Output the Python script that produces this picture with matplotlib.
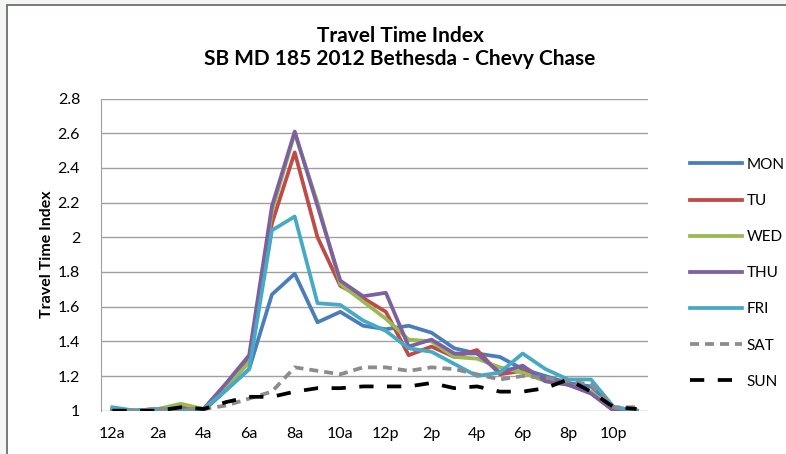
import numpy as np
import matplotlib
matplotlib.use('Agg')
import matplotlib.pyplot as plt
from matplotlib.patches import Rectangle

# hourly travel time index, 12a .. 11p
hours = list(range(24))
tick_labels = ['12a', '2a', '4a', '6a', '8a', '10a', '12p', '2p', '4p', '6p', '8p', '10p']

mon = [1.01, 1.00, 1.01, 1.01, 1.00, 1.12, 1.24, 1.67, 1.79, 1.51, 1.57, 1.49,
       1.47, 1.49, 1.45, 1.36, 1.33, 1.31, 1.24, 1.20, 1.16, 1.14, 1.02, 1.00]
tu = [1.01, 1.00, 1.01, 1.02, 1.01, 1.15, 1.30, 2.08, 2.49, 2.00, 1.72, 1.65,
      1.57, 1.32, 1.37, 1.31, 1.35, 1.21, 1.23, 1.18, 1.15, 1.10, 1.00, 1.00]
wed = [1.01, 1.00, 1.01, 1.04, 1.01, 1.14, 1.28, 2.15, 2.60, 2.20, 1.73, 1.63,
       1.53, 1.41, 1.40, 1.31, 1.30, 1.25, 1.22, 1.17, 1.15, 1.11, 1.00, 1.00]
thu = [1.00, 1.00, 1.00, 1.00, 1.01, 1.16, 1.32, 2.18, 2.61, 2.18, 1.75, 1.66,
       1.68, 1.37, 1.41, 1.33, 1.33, 1.22, 1.26, 1.17, 1.15, 1.10, 1.00, 1.00]
fri = [1.02, 1.00, 1.01, 1.00, 1.01, 1.12, 1.24, 2.04, 2.12, 1.62, 1.61, 1.52,
       1.46, 1.36, 1.34, 1.27, 1.20, 1.22, 1.33, 1.24, 1.18, 1.18, 1.02, 1.00]
sat = [1.00, 1.00, 1.01, 1.01, 1.01, 1.03, 1.07, 1.11, 1.25, 1.23, 1.21, 1.25,
       1.25, 1.23, 1.25, 1.24, 1.21, 1.18, 1.20, 1.19, 1.17, 1.15, 1.02, 1.02]
sun = [1.00, 1.00, 1.00, 1.02, 1.01, 1.05, 1.08, 1.08, 1.11, 1.13, 1.13, 1.14,
       1.14, 1.14, 1.16, 1.13, 1.14, 1.11, 1.11, 1.13, 1.18, 1.11, 1.02, 1.01]

font = ['Lato', 'DejaVu Sans']
plt.rcParams['font.family'] = font

fig = plt.figure(figsize=(7.86, 4.54), dpi=100, facecolor='#f4f6f4')
# chart area (white box with dark border on top/left)
fig.patches.append(Rectangle((7 / 786, -0.1), 1.2, 1 - 5 / 454 + 0.1,
                             transform=fig.transFigure, facecolor='white',
                             edgecolor='#6e6e6e', linewidth=1.3, zorder=-10))

ax = fig.add_axes([101 / 786, 1 - 410.7 / 454, 547 / 786, (410.7 - 98.6) / 454])
ax.set_facecolor('none')

lw = 2.7
ax.plot(hours, mon, color='#4a7ebb', lw=lw, label='MON', solid_joinstyle='round')
ax.plot(hours, tu, color='#be4b48', lw=lw, label='TU', solid_joinstyle='round')
ax.plot(hours, wed, color='#98b954', lw=lw, label='WED', solid_joinstyle='round')
ax.plot(hours, thu, color='#7d60a0', lw=lw, label='THU', solid_joinstyle='round')
ax.plot(hours, fri, color='#46aac5', lw=lw, label='FRI', solid_joinstyle='round')
ax.plot(hours, sat, color='#8c8c8c', lw=lw, label='SAT', dashes=(2.4, 1.6))
ax.plot(hours, sun, color='black', lw=lw, label='SUN', dashes=(3.8, 3.6))

ax.set_xlim(-0.5, 23.5)
ax.set_ylim(1, 2.8)
ax.set_yticks(np.arange(1, 2.81, 0.2))
ax.set_yticklabels(['1', '1.2', '1.4', '1.6', '1.8', '2', '2.2', '2.4', '2.6', '2.8'])
ax.set_xticks(hours[::2])
ax.set_xticklabels(tick_labels)
ax.tick_params(length=0, labelsize=11.5, colors='black', pad=12)
ax.tick_params(axis='y', pad=15)
ax.grid(axis='y', color='#a0a0a0', lw=1)
ax.set_axisbelow(True)
for s in ['top', 'right', 'bottom']:
    ax.spines[s].set_visible(False)
ax.spines['left'].set_color('#a0a0a0')
ax.set_ylabel('Travel Time Index', fontsize=11.5, fontweight='bold', labelpad=3)

fig.text(400 / 786, 1 - 41.7 / 454, 'Travel Time Index', ha='center', va='baseline',
         fontsize=15, fontweight='bold')
fig.text(400 / 786, 1 - 65 / 454, 'SB MD 185 2012 Bethesda - Chevy Chase', ha='center',
         va='baseline', fontsize=15, fontweight='bold')

ax.legend(loc='upper left', bbox_to_anchor=(676 / 786, 1 - 144 / 454),
          bbox_transform=fig.transFigure, frameon=False, fontsize=11,
          handlelength=3.4, handletextpad=0.3, labelspacing=1.45)

fig.savefig('out.png', dpi=100, facecolor=fig.get_facecolor())
